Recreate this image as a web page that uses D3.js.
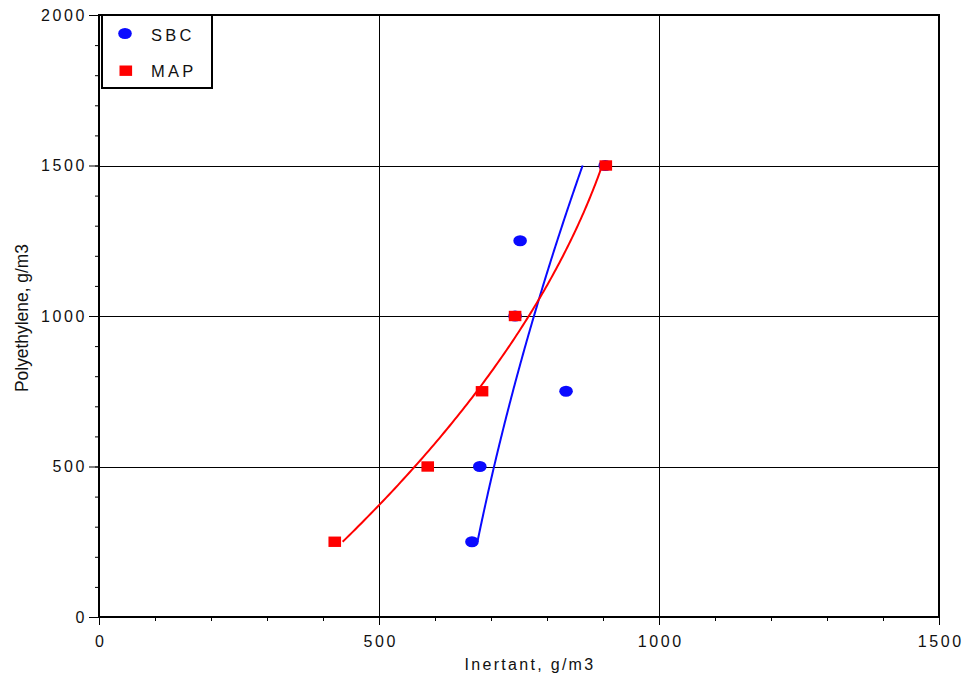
<!DOCTYPE html>
<html>
<head>
<meta charset="utf-8">
<script src="https://cdn.jsdelivr.net/npm/d3@7"></script>
<style>
  html, body { margin: 0; padding: 0; background: #fff; }
  svg { display: block; font-family: "Liberation Sans", Arial, sans-serif; }
</style>
</head>
<body>
<svg id="chart" width="968" height="681"></svg>
<script>
// ---- Data ----
const sbcPolyethylene = [250, 500, 750, 1000, 1250, 1500];
const sbcInertant     = [666, 680, 834, 743, 752, 904];
const mapPolyethylene = [250, 500, 750, 1000, 1500];
const mapInertant     = [421, 587, 684, 743, 905];
const seriesNames = ["SBC", "MAP"];
const xTickValues = [0, 500, 1000, 1500];
const yTickValues = [0, 500, 1000, 1500, 2000];

// ---- Layout ----
const svg = d3.select("#chart");
const pLeft = 99, pRight = 939, pTop = 15, pBottom = 617;
const x = d3.scaleLinear().domain([0, 1500]).range([pLeft, pRight]);
const y = d3.scaleLinear().domain([0, 2000]).range([pBottom, pTop]);

// quadratic least-squares fit of inertant (x) as function of polyethylene (y)
function quadFit(ys, xs) {
  const s = 1000;
  const S = [0, 0, 0, 0, 0], T = [0, 0, 0];
  ys.forEach((yy, i) => {
    const u = yy / s;
    for (let k = 0; k < 5; k++) S[k] += Math.pow(u, k);
    for (let k = 0; k < 3; k++) T[k] += xs[i] * Math.pow(u, k);
  });
  const A = [[S[0], S[1], S[2], T[0]], [S[1], S[2], S[3], T[1]], [S[2], S[3], S[4], T[2]]];
  for (let c = 0; c < 3; c++) {
    for (let r = c + 1; r < 3; r++) {
      const f = A[r][c] / A[c][c];
      for (let k = c; k < 4; k++) A[r][k] -= f * A[c][k];
    }
  }
  const coef = [0, 0, 0];
  for (let r = 2; r >= 0; r--) {
    let v = A[r][3];
    for (let k = r + 1; k < 3; k++) v -= A[r][k] * coef[k];
    coef[r] = v / A[r][r];
  }
  return yy => coef[0] + coef[1] * (yy / s) + coef[2] * (yy / s) * (yy / s);
}

function fitCurve(ys, xs) {
  const f = quadFit(ys, xs);
  const [y0, y1] = d3.extent(ys);
  const n = 120;
  return d3.range(n + 1).map(i => {
    const yy = y0 + (y1 - y0) * i / n;
    return [f(yy), yy];
  });
}

// ---- Gridlines ----
const grid = svg.append("g");
grid.selectAll(".gx").data(xTickValues.filter(v => v > 0 && v < 1500)).join("line")
  .attr("x1", d => Math.round(x(d)) + 0.5).attr("x2", d => Math.round(x(d)) + 0.5)
  .attr("y1", pTop).attr("y2", pBottom)
  .attr("stroke", "#000").attr("stroke-width", 1);
grid.selectAll(".gy").data(yTickValues.filter(v => v > 0 && v < 2000)).join("line")
  .attr("y1", d => Math.round(y(d)) + 0.5).attr("y2", d => Math.round(y(d)) + 0.5)
  .attr("x1", pLeft).attr("x2", pRight)
  .attr("stroke", "#000").attr("stroke-width", 1);

// ---- Axes (ticks) ----
const xMinor = d3.range(0, 1501, 100);
const yMinor = d3.range(0, 2001, 100);

const xAxis = d3.axisBottom(x).tickValues(xMinor)
  .tickSize(4).tickFormat("");
svg.append("g").attr("transform", `translate(0,${pBottom})`).call(xAxis)
  .call(g => g.select(".domain").remove())
  .call(g => g.selectAll("line").attr("stroke", "#000"));
const xAxisMajor = d3.axisBottom(x).tickValues(xTickValues).tickFormat(d3.format("d"))
  .tickSize(8).tickPadding(12);
svg.append("g").attr("transform", `translate(0,${pBottom})`).call(xAxisMajor)
  .call(g => g.select(".domain").remove())
  .call(g => g.selectAll("line").attr("stroke", "#000"))
  .call(g => g.selectAll("text")
    .attr("font-family", "Liberation Sans, Arial, sans-serif")
    .attr("font-size", 16).attr("fill", "#111")
    .attr("letter-spacing", "2.6px").attr("dx", "1.3px").attr("dy", "0.65em"));

const yAxis = d3.axisLeft(y).tickValues(yMinor).tickSize(4).tickFormat("");
svg.append("g").attr("transform", `translate(${pLeft},0)`).call(yAxis)
  .call(g => g.select(".domain").remove())
  .call(g => g.selectAll("line").attr("stroke", "#000"));
const yAxisMajor = d3.axisLeft(y).tickValues(yTickValues).tickFormat(d3.format("d"))
  .tickSize(10).tickPadding(2);
svg.append("g").attr("transform", `translate(${pLeft},0)`).call(yAxisMajor)
  .call(g => g.select(".domain").remove())
  .call(g => g.selectAll("line").attr("stroke", "#000"))
  .call(g => g.selectAll("text")
    .attr("font-family", "Liberation Sans, Arial, sans-serif")
    .attr("font-size", 16).attr("fill", "#111")
    .attr("letter-spacing", "2.6px"));

// ---- Frame ----
svg.append("rect")
  .attr("x", pLeft).attr("y", pTop)
  .attr("width", pRight - pLeft).attr("height", pBottom - pTop)
  .attr("fill", "none").attr("stroke", "#000").attr("stroke-width", 2);

// ---- Fit curves ----
const line = d3.line().x(d => x(d[0])).y(d => y(d[1]));
svg.append("path").datum(fitCurve(sbcPolyethylene, sbcInertant))
  .attr("d", line).attr("fill", "none").attr("stroke", "#0a0aff").attr("stroke-width", 2);
svg.append("path").datum(fitCurve(mapPolyethylene, mapInertant))
  .attr("d", line).attr("fill", "none").attr("stroke", "#ff0000").attr("stroke-width", 2);

// ---- Markers ----
const sbc = sbcPolyethylene.map((p, i) => ({ x: sbcInertant[i], y: p }));
const map = mapPolyethylene.map((p, i) => ({ x: mapInertant[i], y: p }));
svg.append("g").selectAll("ellipse").data(sbc).join("ellipse")
  .attr("cx", d => x(d.x)).attr("cy", d => y(d.y))
  .attr("rx", 6.8).attr("ry", 5.6).attr("fill", "#0a0aff");
svg.append("g").selectAll("rect").data(map).join("rect")
  .attr("x", d => x(d.x) - 6.3).attr("y", d => y(d.y) - 5.2)
  .attr("width", 12.6).attr("height", 10.4).attr("fill", "#ff0000");

// ---- Axis titles ----
svg.append("text")
  .attr("x", 530).attr("y", 670)
  .attr("text-anchor", "middle")
  .attr("font-size", 16).attr("letter-spacing", "2.3px").attr("fill", "#111")
  .text("Inertant, g/m3");
svg.append("text")
  .attr("transform", "translate(28,318) rotate(-90)")
  .attr("text-anchor", "middle")
  .attr("font-size", 18).attr("fill", "#111")
  .attr("textLength", 148).attr("lengthAdjust", "spacingAndGlyphs")
  .text("Polyethylene, g/m3");

// ---- Legend ----
const lg = svg.append("g");
lg.append("rect").attr("x", 102).attr("y", 15).attr("width", 110).attr("height", 73)
  .attr("fill", "#fff").attr("stroke", "#000").attr("stroke-width", 2);
lg.append("ellipse").attr("cx", 125).attr("cy", 33.5).attr("rx", 6.8).attr("ry", 5.6).attr("fill", "#0a0aff");
lg.append("rect").attr("x", 119.5).attr("y", 65.5).attr("width", 12.6).attr("height", 10.4).attr("fill", "#ff0000");
lg.selectAll("text").data(seriesNames).join("text")
  .attr("x", 151).attr("y", (d, i) => 41 + i * 36)
  .attr("font-size", 16.5).attr("letter-spacing", "3.2px").attr("fill", "#111")
  .text(d => d);
</script>
</body>
</html>
